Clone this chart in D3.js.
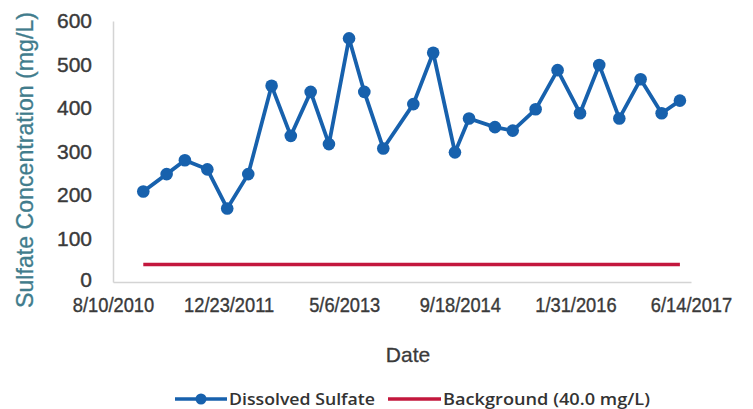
<!DOCTYPE html>
<html>
<head>
<meta charset="utf-8">
<script src="https://cdn.jsdelivr.net/npm/d3@7"></script>
<style>
  body { margin: 0; background: #fff; }
  svg { display: block; }
</style>
</head>
<body>
<svg id="chart" width="753" height="409"></svg>
<script>
// sample dates and dissolved sulfate (mg/L)
const sampleDates = [
  "2010-12-19", "2011-03-30", "2011-06-17", "2011-09-22", "2011-12-17",
  "2012-03-17", "2012-06-26", "2012-09-17", "2012-12-12", "2013-03-01",
  "2013-05-27", "2013-08-01", "2013-10-22", "2014-03-01", "2014-05-26",
  "2014-08-28", "2014-10-28", "2015-02-17", "2015-05-05", "2015-08-12",
  "2015-11-15", "2016-02-20", "2016-05-13", "2016-08-08", "2016-11-08",
  "2017-02-07", "2017-04-27"
];
const sulfate = [
  208, 248, 280, 259, 169, 248, 451, 336, 437, 317,
  560, 437, 307, 409, 527, 298, 376, 356, 348, 397,
  487, 388, 499, 376, 466, 388, 417
];
const background = 40.0;
const xTickLabels = ["8/10/2010", "12/23/2011", "5/6/2013", "9/18/2014", "1/31/2016", "6/14/2017"];
const yTicks = [0, 100, 200, 300, 400, 500, 600];
const seriesNames = ["Dissolved Sulfate", "Background (40.0 mg/L)"];

const parseDate = d3.timeParse("%Y-%m-%d");
const parseTick = d3.timeParse("%m/%d/%Y");

const margin = {top: 21, right: 62, bottom: 127, left: 113};
const svg = d3.select("#chart");
const width = +svg.attr("width") - margin.left - margin.right,
      height = +svg.attr("height") - margin.top - margin.bottom;
const g = svg.append("g").attr("transform", "translate(" + margin.left + "," + margin.top + ")");

const tickDates = xTickLabels.map(parseTick);
const x = d3.scaleTime()
  .domain([tickDates[0], tickDates[tickDates.length - 1]])
  .range([0, width]);
const y = d3.scaleLinear().domain([0, 600]).range([height, 0]);

const blue = "#1761ad", red = "#c3173d", labelColor = "#3a3a3a";
const axisFont = "21px 'Liberation Sans', Arial, sans-serif";

// axes
const xAxis = g.append("g")
  .attr("transform", "translate(0," + height + ")")
  .call(d3.axisBottom(x).tickValues(tickDates).tickSize(0).tickPadding(15)
    .tickFormat(function(d, i) { return xTickLabels[i]; }));
xAxis.select(".domain").attr("stroke", "#d4d4d4").attr("stroke-width", 1.5);
xAxis.selectAll("text")
  .style("font", axisFont)
  .attr("fill", labelColor)
  .attr("stroke", labelColor)
  .attr("stroke-width", 0.4)
  .attr("dy", "0.71em")
  .each(function() {
    // the original labels are a little narrower than Arial
    const len = this.getComputedTextLength();
    d3.select(this).attr("textLength", len * 0.87).attr("lengthAdjust", "spacingAndGlyphs");
  });

const yAxis = g.append("g")
  .call(d3.axisLeft(y).tickValues(yTicks).tickSize(0).tickPadding(21));
yAxis.select(".domain").attr("stroke", "#d4d4d4").attr("stroke-width", 1.5);
yAxis.selectAll("text")
  .style("font", "21px 'Liberation Sans', Arial, sans-serif")
  .attr("fill", labelColor)
  .attr("stroke", labelColor)
  .attr("stroke-width", 0.4)
  .attr("dy", function(d) { return d === 0 ? "0.2em" : "0.32em"; });

// axis titles
svg.append("text")
  .attr("x", margin.left + 295)
  .attr("y", 362)
  .attr("text-anchor", "middle")
  .style("font", "21px 'Liberation Sans', Arial, sans-serif")
  .attr("fill", labelColor)
  .attr("stroke", labelColor)
  .attr("stroke-width", 0.3)
  .text("Date");

svg.append("text")
  .attr("transform", "translate(33,160) rotate(-90)")
  .attr("text-anchor", "middle")
  .style("font", "24px 'Liberation Sans', Arial, sans-serif")
  .attr("fill", "#417c8c")
  .attr("stroke", "#417c8c")
  .attr("stroke-width", 0.3)
  .attr("textLength", 296)
  .attr("lengthAdjust", "spacingAndGlyphs")
  .text("Sulfate Concentration  (mg/L)");

// background line
const bgData = [sampleDates[0], sampleDates[sampleDates.length - 1]].map(function(d) {
  return {date: parseDate(d), value: background};
});
const line = d3.line()
  .x(function(d) { return x(d.date); })
  .y(function(d) { return y(d.value); });

g.append("path")
  .datum(bgData)
  .attr("fill", "none")
  .attr("stroke", red)
  .attr("stroke-width", 3.5)
  .attr("d", line);

// sulfate series
const data = sampleDates.map(function(d, i) {
  return {date: parseDate(d), value: sulfate[i]};
});
g.append("path")
  .datum(data)
  .attr("fill", "none")
  .attr("stroke", blue)
  .attr("stroke-width", 3.8)
  .attr("stroke-linejoin", "round")
  .attr("d", line);
g.selectAll("circle.pt").data(data).enter()
  .append("circle").attr("class", "pt")
  .attr("cx", function(d) { return x(d.date); })
  .attr("cy", function(d) { return y(d.value); })
  .attr("r", 6.3)
  .attr("fill", blue);

// legend
const legend = svg.append("g").attr("transform", "translate(175,399)");
const legendFont = "600 17px 'Open Sans', 'Noto Sans', sans-serif";
legend.append("line").attr("x1", 0).attr("x2", 52).attr("y1", 0).attr("y2", 0)
  .attr("stroke", blue).attr("stroke-width", 3.5);
legend.append("circle").attr("cx", 26).attr("cy", 0).attr("r", 5.5).attr("fill", blue);
legend.append("text").attr("x", 54).attr("y", 6)
  .style("font", legendFont).attr("fill", "#333")
  .attr("textLength", 146)
  .attr("lengthAdjust", "spacingAndGlyphs")
  .text(seriesNames[0]);
legend.append("line").attr("x1", 213).attr("x2", 266).attr("y1", 0).attr("y2", 0)
  .attr("stroke", red).attr("stroke-width", 3.5);
legend.append("text").attr("x", 268).attr("y", 6)
  .style("font", legendFont).attr("fill", "#333")
  .attr("textLength", 207)
  .attr("lengthAdjust", "spacingAndGlyphs")
  .text(seriesNames[1]);
</script>
</body>
</html>
